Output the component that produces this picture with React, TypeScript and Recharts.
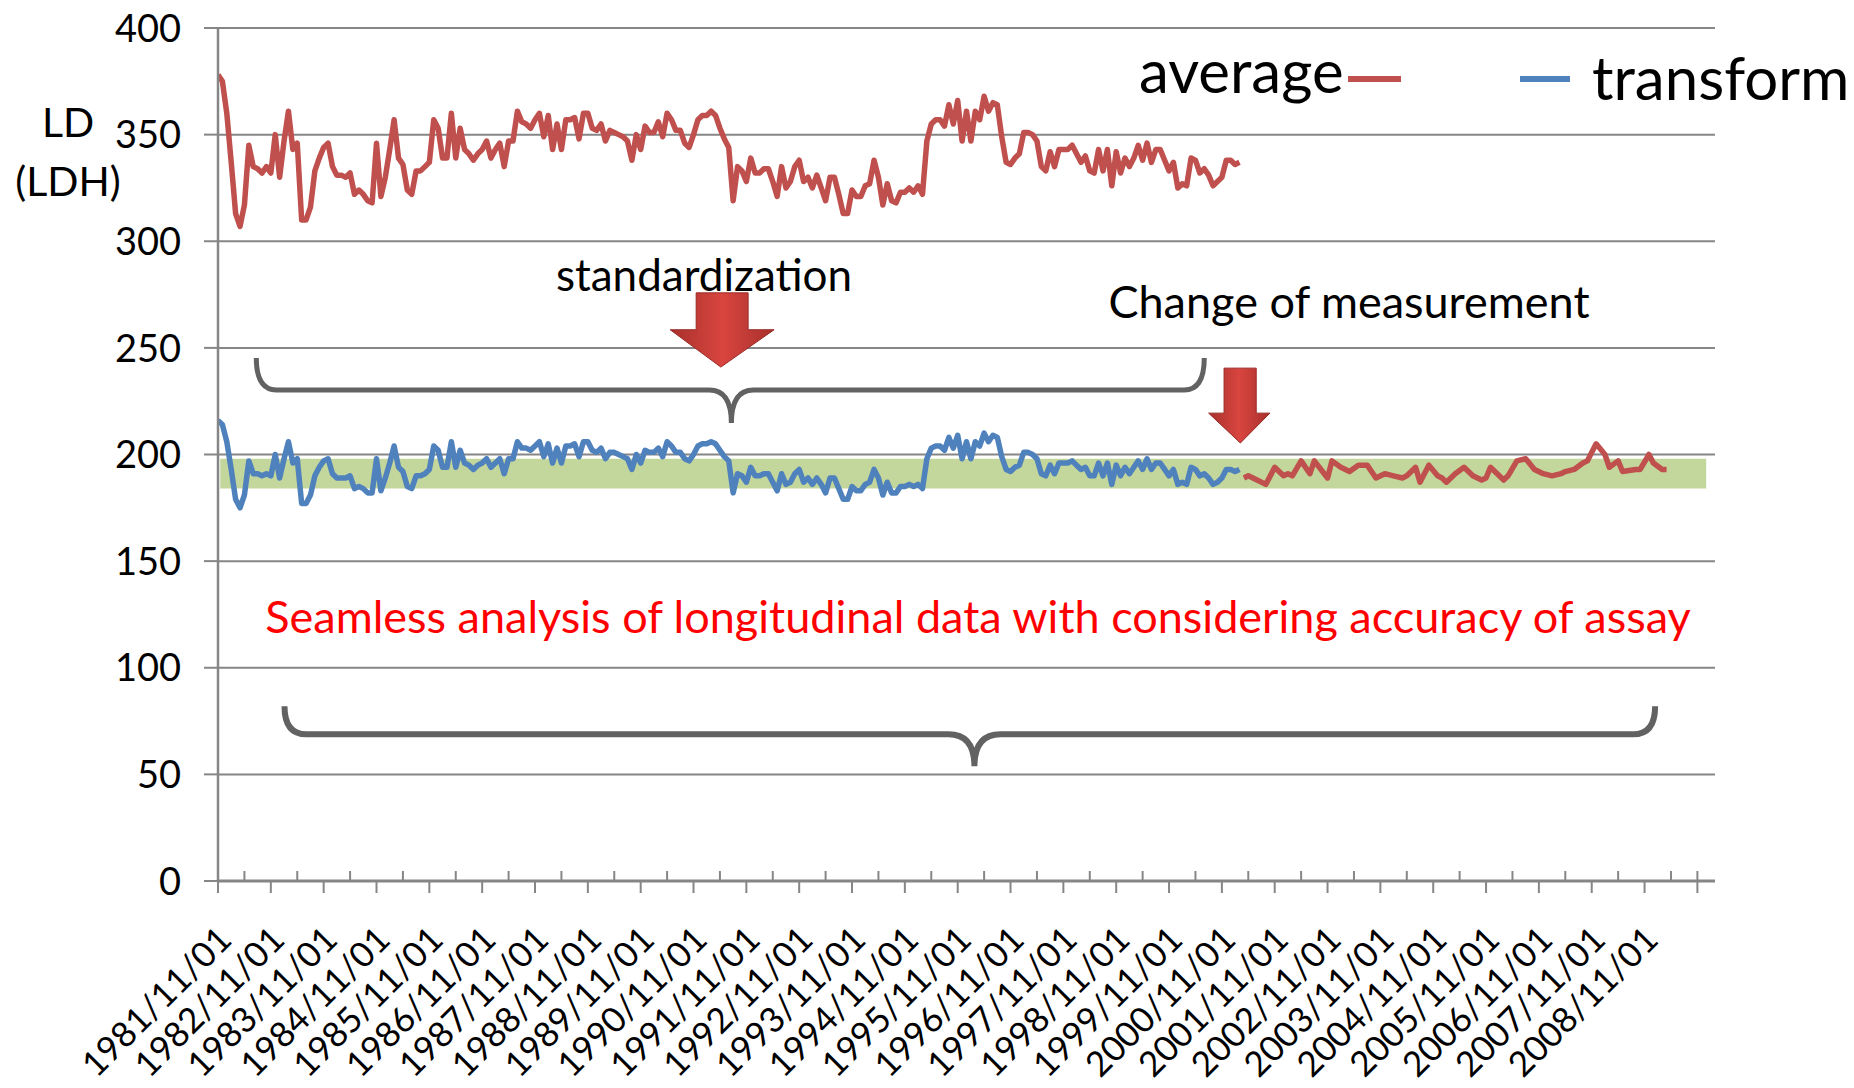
import React from "react";
import {
  LineChart,
  Line,
  XAxis,
  YAxis,
  CartesianGrid,
  ReferenceArea,
} from "recharts";

// months counted from 1981/11
const averageBefore: number[] = [
  378, 375, 360, 337, 313, 307, 317, 345, 335, 334, 332, 335, 332, 350, 330, 347, 361, 343, 346, 310,
  310, 316, 333, 339, 344, 346, 335, 331, 331, 330, 332, 322, 324, 322, 319, 318, 346, 321, 330, 343,
  357, 339, 336, 324, 322, 333, 333, 335, 337, 357, 353, 339, 339, 360, 339, 353, 343, 341, 338, 341,
  343, 347, 339, 343, 346, 335, 347, 347, 361, 356, 355, 353, 357, 360, 349, 359, 343, 355, 343, 357,
  357, 358, 348, 360, 360, 353, 352, 355, 347, 352, 351, 350, 349, 347, 338, 350, 343, 354, 351, 351,
  356, 349, 360, 357, 352, 352, 346, 344, 350, 357, 359, 359, 361, 359, 353, 348, 344, 319, 335, 333,
  328, 339, 332, 332, 334, 334, 328, 321, 335, 325, 328, 335, 338, 328, 330, 325, 331, 325, 319, 330,
  330, 322, 313, 313, 324, 321, 321, 326, 327, 338, 330, 317, 327, 319, 318, 323, 323, 325, 323, 326,
  322, 347, 355, 357, 357, 354, 364, 355, 366, 347, 361, 347, 361, 357, 368, 361, 365, 364, 349, 337,
  336, 339, 341, 351, 351, 350, 347, 335, 333, 342, 335, 343, 343, 343, 345, 341, 337, 340, 333, 332,
  343, 333, 343, 326, 342, 332, 339, 335, 339, 345, 338, 346, 337, 343, 343, 338, 333, 337, 325, 327,
  326, 339, 338, 332, 334, 331, 326, 328, 330, 338, 338, 336, 337,
];

const transform: number[] = [
  216, 214, 206, 193, 179, 175, 181, 197, 191, 191, 190, 191, 190, 200, 189, 198, 206, 196, 198, 177,
  177, 181, 190, 194, 197, 198, 191, 189, 189, 189, 190, 184, 185, 184, 182, 182, 198, 183, 189, 196,
  204, 194, 192, 185, 184, 190, 190, 191, 193, 204, 202, 194, 194, 206, 194, 202, 196, 195, 193, 195,
  196, 198, 194, 196, 198, 191, 198, 198, 206, 203, 203, 202, 204, 206, 199, 205, 196, 203, 196, 204,
  204, 205, 199, 206, 206, 202, 201, 203, 198, 201, 201, 200, 199, 198, 193, 200, 196, 202, 201, 201,
  203, 199, 206, 204, 201, 201, 198, 197, 200, 204, 205, 205, 206, 205, 202, 199, 197, 182, 191, 190,
  187, 194, 190, 190, 191, 191, 187, 183, 191, 186, 187, 191, 193, 187, 189, 186, 189, 186, 182, 189,
  189, 184, 179, 179, 185, 183, 183, 186, 187, 193, 189, 181, 187, 182, 182, 185, 185, 186, 185, 186,
  184, 198, 203, 204, 204, 202, 208, 203, 209, 198, 206, 198, 206, 204, 210, 206, 209, 208, 199, 193,
  192, 194, 195, 201, 201, 200, 198, 191, 190, 195, 191, 196, 196, 196, 197, 195, 193, 194, 190, 190,
  196, 190, 196, 186, 195, 190, 194, 191, 194, 197, 193, 198, 193, 196, 196, 193, 190, 193, 186, 187,
  186, 194, 193, 190, 191, 189, 186, 187, 189, 193, 193, 192, 193,
];

const afterMonths: number[] = [
  233, 234, 236, 238, 240, 242, 243, 244, 246, 248, 249, 252, 253, 255, 257, 259, 261, 263, 265, 267,
  269, 270, 272, 273, 275, 277, 278, 279, 281, 283, 285, 287, 288, 289, 290, 292, 293, 295, 297, 299,
  301, 303, 305, 306, 308, 310, 311, 313, 315, 316, 318, 319, 322, 323, 325, 326, 328, 329,
];
const averageAfter: number[] = [
  189, 190, 188, 186, 194, 190, 191, 190, 197, 191, 197, 189, 197, 194, 192, 195, 195, 189, 191, 190,
  189, 190, 194, 187, 195, 190, 189, 187, 191, 194, 190, 188, 189, 194, 192, 188, 190, 197, 198, 193,
  191, 190, 191, 192, 193, 196, 197, 205, 200, 194, 197, 192, 193, 193, 200, 196, 193, 193,
];

const dateLabels: string[] = [
  "1981/11/01", "1982/11/01", "1983/11/01", "1984/11/01", "1985/11/01", "1986/11/01", "1987/11/01",
  "1988/11/01", "1989/11/01", "1990/11/01", "1991/11/01", "1992/11/01", "1993/11/01", "1994/11/01",
  "1995/11/01", "1996/11/01", "1997/11/01", "1998/11/01", "1999/11/01", "2000/11/01", "2001/11/01",
  "2002/11/01", "2003/11/01", "2004/11/01", "2005/11/01", "2006/11/01", "2007/11/01", "2008/11/01",
];
const yTicks = [0, 50, 100, 150, 200, 250, 300, 350, 400];

const RED = "#C0504D";
const BLUE = "#4F81BD";
const GRAY = "#868686";
const FONT = "Lato, 'Open Sans', sans-serif";

const W = 1854;
const H = 1088;
const M = { top: 28, right: 139, bottom: 0, left: 118 };
const Y_AXIS_W = 100;
const X_AXIS_H = 207;
const X_MAX = 340;
const plotL = M.left + Y_AXIS_W;
const plotT = M.top;
const plotW = W - plotL - M.right;
const plotH = H - plotT - X_AXIS_H - M.bottom;
const px = (m: number) => plotL + (m / X_MAX) * plotW;
const py = (v: number) => plotT + ((400 - v) / 400) * plotH;

const beforeData = averageBefore.map((v, i) => ({ m: i, v }));
const transformData = transform.map((v, i) => ({ m: i, v }));
const afterData = averageAfter.map((v, i) => ({ m: afterMonths[i], v }));

const axisTicks: number[] = [];
for (let m = 0; m <= 336; m += 6) axisTicks.push(m);

const XTick = (props: any) => {
  const { x, y, payload } = props;
  const v: number = payload.value;
  const major = v % 12 === 0;
  const label = major ? dateLabels[v / 12] : undefined;
  const ax = x + 7;
  const ay = y + 52;
  return (
    <g>
      {major && <line x1={x} x2={x} y1={y} y2={y + 12} stroke={GRAY} strokeWidth={2} />}
      {(!major || v === 336) && (
        <line x1={x} x2={x} y1={y} y2={y - 10} stroke={GRAY} strokeWidth={2} />
      )}
      {label && (
        <text
          x={ax}
          y={ay}
          dy="0.35em"
          textAnchor="end"
          transform={`rotate(-45 ${ax} ${ay})`}
          fontSize={35}
          fontFamily={FONT}
          fill="#000"
        >
          {label}
        </text>
      )}
    </g>
  );
};

const YTick = (props: any) => {
  const { x, y, payload } = props;
  return (
    <g>
      <line x1={x - 14} x2={x} y1={y} y2={y} stroke={GRAY} strokeWidth={2} />
      <text x={x - 37} y={y} dy="0.36em" textAnchor="end" fontSize={38} fontFamily={FONT} fill="#000">
        {payload.value}
      </text>
    </g>
  );
};

const brace = (m1: number, m2: number, mc: number, vEnd: number, vLine: number, vTip: number, r: number, rc: number) => {
  const x1 = px(m1);
  const x2 = px(m2);
  const xc = px(mc);
  const ye = py(vEnd);
  const yl = py(vLine);
  const yt = py(vTip);
  return (
    `M ${x1} ${ye} Q ${x1} ${yl} ${x1 + r} ${yl} L ${xc - rc} ${yl} Q ${xc} ${yl} ${xc} ${yt} ` +
    `Q ${xc} ${yl} ${xc + rc} ${yl} L ${x2 - r} ${yl} Q ${x2} ${yl} ${x2} ${ye}`
  );
};

const arrow = (
  b1: number, b2: number, vTop: number, vHead: number, h1: number, h2: number, mTip: number, vTip: number,
) => {
  const pts = [
    [px(b1), py(vTop)],
    [px(b2), py(vTop)],
    [px(b2), py(vHead)],
    [px(h2), py(vHead)],
    [px(mTip), py(vTip)],
    [px(h1), py(vHead)],
    [px(b1), py(vHead)],
  ];
  return pts.map((p) => p.join(",")).join(" ");
};

const Overlay = () => (
  <svg width={W} height={H} style={{ position: "absolute", left: 0, top: 0, pointerEvents: "none" }}>
    <defs>
      <linearGradient id="bodyGrad" x1="0" y1="0" x2="1" y2="0">
        <stop offset="0%" stopColor="#A8302C" />
        <stop offset="50%" stopColor="#D9453F" />
        <stop offset="100%" stopColor="#A8302C" />
      </linearGradient>
    </defs>

    {/* y axis title */}
    <text x={68} y={137} textAnchor="middle" fontSize={41} fontFamily={FONT}>LD</text>
    <text x={68} y={196} textAnchor="middle" fontSize={41} fontFamily={FONT}>(LDH)</text>

    {/* legend */}
    <text x={1139} y={93} fontSize={60} fontFamily={FONT}>average</text>
    <line x1={1348} x2={1401} y1={79} y2={79} stroke={RED} strokeWidth={6} />
    <line x1={1520} x2={1570} y1={79} y2={79} stroke={BLUE} strokeWidth={6} />
    <text x={1592} y={100} fontSize={60} fontFamily={FONT}>transform</text>

    {/* annotations */}
    <text x={704} y={291} textAnchor="middle" fontSize={44} fontFamily={FONT}>standardization</text>
    <text x={1349} y={318} textAnchor="middle" fontSize={45} fontFamily={FONT}>Change of measurement</text>
    <text x={978} y={633} textAnchor="middle" fontSize={45} fontFamily={FONT} fill="#FF0000">
      Seamless analysis of longitudinal data with considering accuracy of assay
    </text>

    <path d={brace(8.7, 224, 116.6, 245.3, 230.3, 214.8, 20, 22)} fill="none" stroke="#626262" strokeWidth={5} />
    <path d={brace(15.1, 326.4, 171.8, 82, 68.8, 53.8, 22, 26)} fill="none" stroke="#626262" strokeWidth={6} />

    <polygon points={arrow(108.6, 120.4, 275.8, 258.5, 102.7, 126.3, 114.2, 241)} fill="url(#bodyGrad)" stroke="#9A2A26" strokeWidth={1} />
    <polygon points={arrow(228.5, 235.8, 240.5, 219.4, 225, 238.9, 232.2, 205.4)} fill="url(#bodyGrad)" stroke="#9A2A26" strokeWidth={1} />
  </svg>
);

export default function App() {
  return (
    <div style={{ position: "absolute", left: 0, top: 0, width: W, height: H, background: "#fff" }}>
      <LineChart width={W} height={H} margin={M}>
        <CartesianGrid vertical={false} stroke={GRAY} strokeWidth={2} />
        <ReferenceArea
          x1={0.5}
          x2={338}
          y1={184}
          y2={198}
          fill="#C3D69B"
          fillOpacity={1}
          stroke="none"
          ifOverflow="visible"
        />
        <XAxis
          dataKey="m"
          type="number"
          domain={[0, X_MAX]}
          allowDataOverflow
          ticks={axisTicks}
          interval={0}
          tickSize={0}
          tickMargin={0}
          tickLine={false}
          tick={<XTick />}
          height={X_AXIS_H}
          axisLine={{ stroke: GRAY, strokeWidth: 3 }}
        />
        <YAxis
          type="number"
          domain={[0, 400]}
          ticks={yTicks}
          interval={0}
          width={Y_AXIS_W}
          tickSize={0}
          tickMargin={0}
          tickLine={false}
          tick={<YTick />}
          axisLine={{ stroke: GRAY, strokeWidth: 2.5 }}
        />
        <Line data={beforeData} dataKey="v" type="linear" stroke={RED} strokeWidth={5.5} dot={false} strokeLinejoin="round" isAnimationActive={false} />
        <Line data={transformData} dataKey="v" type="linear" stroke={BLUE} strokeWidth={5.5} dot={false} strokeLinejoin="round" isAnimationActive={false} />
        <Line data={afterData} dataKey="v" type="linear" stroke={RED} strokeWidth={5.5} dot={false} strokeLinejoin="round" isAnimationActive={false} />
      </LineChart>
      <Overlay />
    </div>
  );
}
